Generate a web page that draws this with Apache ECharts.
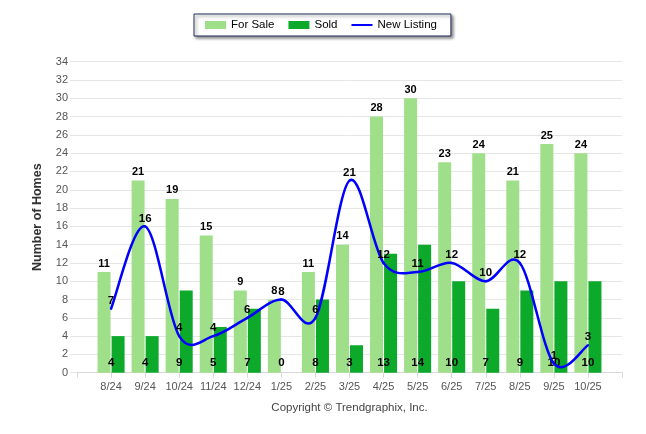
<!DOCTYPE html>
<html>
<head>
<meta charset="utf-8">
<script src="https://cdn.jsdelivr.net/npm/echarts@6/dist/echarts.min.js"></script>
<style>
html,body{margin:0;padding:0;background:#fff;}
#chart{width:646px;height:434px;}
</style>
</head>
<body>
<div id="chart"></div>
<script>
var categories = ['8/24','9/24','10/24','11/24','12/24','1/25','2/25','3/25','4/25','5/25','6/25','7/25','8/25','9/25','10/25'];
var forSale = [11,21,19,15,9,8,11,14,28,30,23,24,21,25,24];
var sold = [4,4,9,5,7,0,8,3,13,14,10,7,9,10,10];
var newListing = [7,16,4,4,6,8,6,21,12,11,12,10,12,1,3];
var yTicks = {min: 0, max: 34, interval: 2};

function pad(arr) { return [null].concat(arr).concat([null]); }

var font = 'Liberation Sans, Arial, sans-serif';
var tension = 0.5;
var lineColor = '#0000ff';

function renderSpline(params, api) {
  var pts = newListing.map(function (v, i) { return api.coord([i + 1, v]); });
  var i = params.dataIndex;
  var children = [];
  if (i > 0) {
    var p0 = pts[i - 2] || pts[i - 1], p1 = pts[i - 1], p2 = pts[i], p3 = pts[i + 1] || pts[i];
    var k = tension / 3;
    children.push({
      type: 'bezierCurve',
      shape: {
        x1: p1[0], y1: p1[1],
        cpx1: p1[0] + k * (p2[0] - p0[0]), cpy1: p1[1] + k * (p2[1] - p0[1]),
        cpx2: p2[0] - k * (p3[0] - p1[0]), cpy2: p2[1] - k * (p3[1] - p1[1]),
        x2: p2[0], y2: p2[1]
      },
      style: {stroke: lineColor, lineWidth: 2.5, fill: null, lineCap: 'round'}
    });
  }
  children.push({
    type: 'text',
    z2: 20,
    style: {
      text: String(newListing[i]),
      x: pts[i][0], y: pts[i][1] - 2,
      align: 'center', verticalAlign: 'bottom',
      font: 'bold 11.5px ' + font,
      fill: '#000'
    }
  });
  return {type: 'group', children: children};
}

var chart = echarts.init(document.getElementById('chart'), null, {renderer: 'canvas'});
chart.setOption({
  animation: false,
  textStyle: {fontFamily: font},
  legend: {
    left: 194, top: 14,
    padding: [5, 14, 5, 11],
    itemWidth: 21, itemHeight: 8, itemGap: 14,
    borderColor: '#1f2d5c', borderWidth: 1,
    backgroundColor: '#fff',
    shadowColor: 'rgba(0,0,0,0.45)', shadowBlur: 3, shadowOffsetX: 2, shadowOffsetY: 2,
    textStyle: {fontSize: 11.5, color: '#000', fontFamily: font},
    data: [
      {name: 'For Sale', icon: 'rect'},
      {name: 'Sold', icon: 'rect'},
      {name: 'New Listing', icon: 'path://M0,0L0.01,0M0,2.9L21,2.9L21,5.1L0,5.1ZM20.99,8L21,8', itemStyle: {color: lineColor}}
    ]
  },
  grid: {left: 77, right: 24, top: 61.7, bottom: 61.3, containLabel: false},
  xAxis: {
    type: 'category',
    boundaryGap: false,
    data: pad(categories).map(function (c) { return c === null ? '' : c; }),
    axisLine: {lineStyle: {color: '#d8d8d8'}},
    axisTick: {show: true, length: 5, lineStyle: {color: '#d8d8d8'}, interval: 0},
    axisLabel: {color: '#555', fontSize: 11, margin: 9, interval: 0, fontFamily: font},
    splitLine: {show: false}
  },
  yAxis: {
    type: 'value',
    min: yTicks.min, max: yTicks.max, interval: yTicks.interval,
    name: 'Number of Homes',
    nameLocation: 'middle',
    nameRotate: 90,
    nameGap: 33,
    nameTextStyle: {fontSize: 12.5, fontWeight: 'bold', color: '#333', fontFamily: font},
    axisLine: {show: false},
    axisTick: {show: true, length: 7, lineStyle: {color: '#e6e6e6'}},
    axisLabel: {color: '#555', fontSize: 11, margin: 9, fontFamily: font},
    splitLine: {lineStyle: {color: '#e6e6e6'}}
  },
  series: [
    {
      name: 'For Sale', type: 'bar',
      data: pad(forSale),
      barWidth: 13, barGap: '8%',
      itemStyle: {color: '#a0df89'},
      label: {show: true, position: 'top', distance: 3, fontSize: 11, fontWeight: 'bold', color: '#000', fontFamily: font}
    },
    {
      name: 'Sold', type: 'bar',
      data: pad(sold),
      barWidth: 13,
      itemStyle: {color: '#0ca92b'},
      label: {show: true, position: 'insideBottom', distance: 4, offset: [-7, 0], fontSize: 11.5, fontWeight: 'bold', color: '#000', fontFamily: font}
    },
    {
      name: 'New Listing', type: 'custom',
      data: newListing.map(function (v, i) { return [i + 1, v]; }),
      encode: {x: 0, y: 1},
      itemStyle: {color: lineColor},
      renderItem: renderSpline,
      z: 5
    }
  ],
  graphic: [
    {
      type: 'text',
      style: {text: 'Copyright \u00a9 Trendgraphix, Inc.', x: 349.5, y: 408, align: 'center', verticalAlign: 'middle', font: '11.5px ' + font, fill: '#444'}
    }
  ]
});
</script>
</body>
</html>
